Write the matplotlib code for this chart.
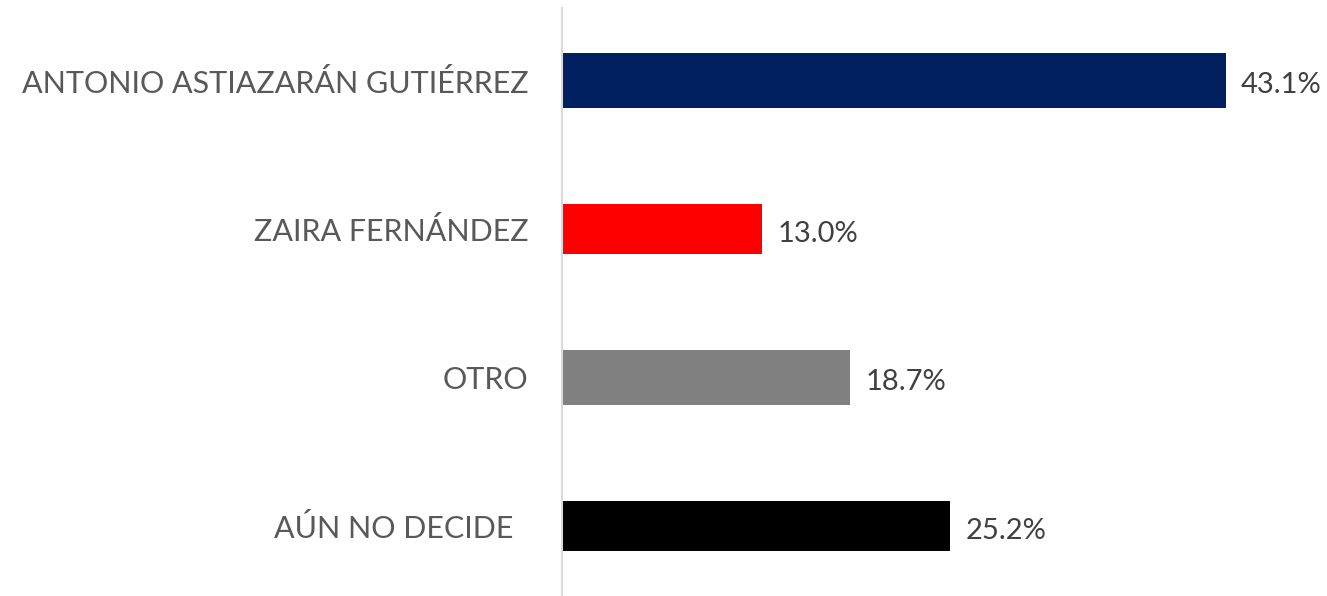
import matplotlib.pyplot as plt

categories = ["ANTONIO ASTIAZARÁN GUTIÉRREZ", "ZAIRA FERNÁNDEZ", "OTRO", "AÚN NO DECIDE  "]
values = [43.1, 13.0, 18.7, 25.2]
colors = ["#002060", "#FF0000", "#808080", "#000000"]
value_labels = ["43.1%", "13.0%", "18.7%", "25.2%"]

plt.rcParams["font.family"] = ["Lato", "DejaVu Sans"]

fig = plt.figure(figsize=(13.27, 5.96), dpi=100)
ax = fig.add_axes([562 / 1327, 0, (1327 - 562) / 1327, 588 / 596])

pos = list(range(len(categories)))
heights = [0.37, 0.34, 0.37, 0.34]
ax.barh(pos, values, height=heights, color=colors)

for p, v, lab in zip(pos, values, value_labels):
    ax.text(v + 1.0, p + 0.03, lab, va="center", ha="left", fontsize=21, color="#404040")

ax.set_xlim(0, 765 / 15.4)
ax.set_ylim(3.47, -0.49)
ax.set_yticks(pos)
ax.set_yticklabels(categories, fontsize=22, color="#595959")
ax.tick_params(axis="y", length=0, pad=24)
ax.set_xticks([])

for s in ["top", "right", "bottom"]:
    ax.spines[s].set_visible(False)
ax.spines["left"].set_color("#D9D9D9")
ax.spines["left"].set_linewidth(1.5)

fig.savefig("out.png", dpi=100)
